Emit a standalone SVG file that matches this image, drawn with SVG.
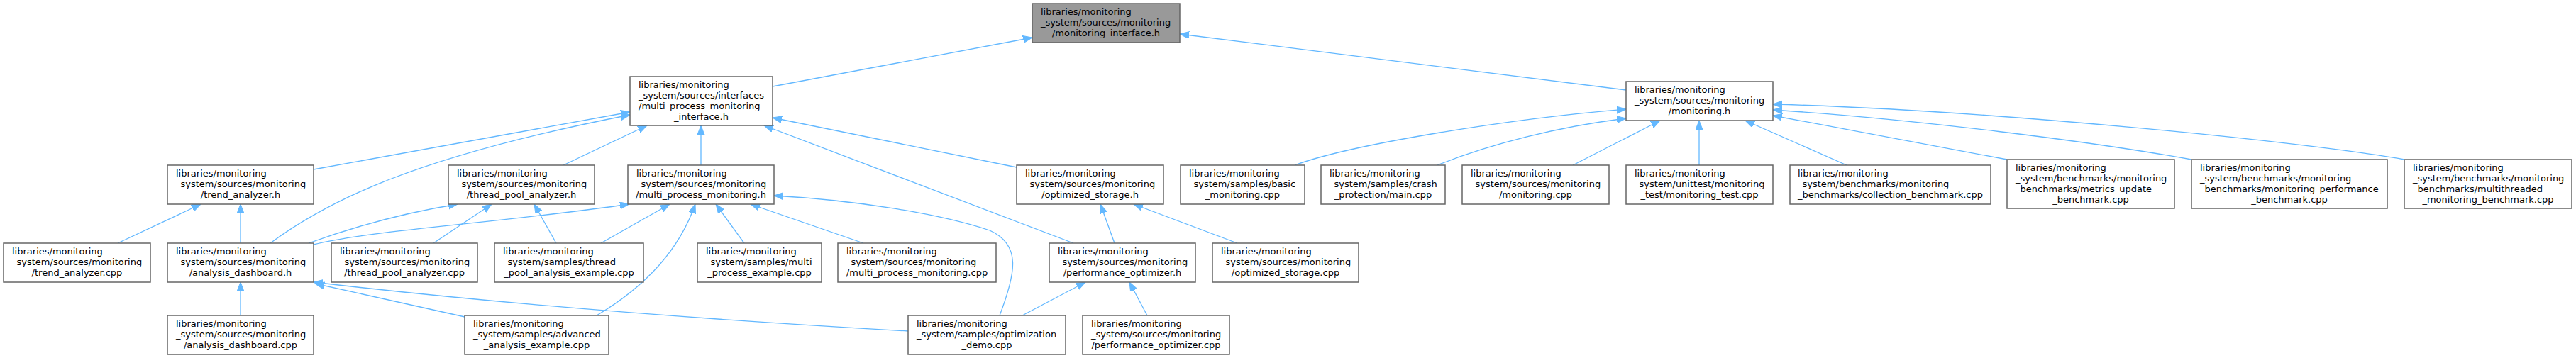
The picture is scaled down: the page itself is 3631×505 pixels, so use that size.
<svg xmlns="http://www.w3.org/2000/svg" width="3631" height="505" viewBox="0 0 3631 505">
<style>
.n rect{fill:#ffffff;stroke:#666666;stroke-width:1.5}
.n.root rect{fill:#999999}
.n text{font-family:"DejaVu Sans",sans-serif;font-size:13px;fill:#000000}
.n text.c{text-anchor:middle}
#edges path{fill:none;stroke:#63b8ff;stroke-width:1.3;marker-end:url(#ah)}
</style>
<defs>
<marker id="ah" markerUnits="userSpaceOnUse" markerWidth="14" markerHeight="12" refX="13" refY="5" orient="auto">
<path d="M0,0 L13,5 L0,10 z" fill="#63b8ff" stroke="#63b8ff" stroke-width="1"/>
</marker>
</defs>
<rect width="3631" height="505" fill="#ffffff"/>
<g id="edges">
<path d="M1089,122 L1455,53"/>
<path d="M2292,127 L1663,48"/>
<path d="M442,239 L888,158"/>
<path d="M381,343 C460,285 580,222 888,162"/>
<path d="M794,233 L912,177"/>
<path d="M988,233 L988,177"/>
<path d="M1513,343 L1077,177"/>
<path d="M1433,236 L1089,166"/>
<path d="M1825,233 C1900,205 2120,168 2292,154"/>
<path d="M2026,233 C2100,203 2200,178 2292,167"/>
<path d="M2217,233 L2340,170"/>
<path d="M2395,233 L2395,170"/>
<path d="M2603,233 L2460,170"/>
<path d="M2829,225 L2499,163"/>
<path d="M3089,225 C2950,200 2700,168 2499,155"/>
<path d="M3389,225 C3250,200 2800,155 2499,147"/>
<path d="M166,343 L283,288"/>
<path d="M339,343 L339,288"/>
<path d="M435,343 Q540,305 645,288"/>
<path d="M442,345 C520,325 700,315 887,288"/>
<path d="M611,343 L693,288"/>
<path d="M784,343 L753,288"/>
<path d="M847,343 L944,288"/>
<path d="M841,445 C900,410 955,360 980,288"/>
<path d="M1049,343 L1009,288"/>
<path d="M1217,343 L1058,288"/>
<path d="M1409,445 C1432,385 1440,345 1395,325 C1320,300 1200,282 1091,276"/>
<path d="M1280,467 Q800,440 442,398"/>
<path d="M655,447 L444,400"/>
<path d="M339,445 L339,398"/>
<path d="M1441,445 L1530,398"/>
<path d="M1617,445 L1592,398"/>
<path d="M1571,343 L1551,288"/>
<path d="M1744,343 L1598,288"/>
</g>
<g id="monitoring_interface_h" class="n root"><rect x="1455" y="5" width="208" height="55"/><text x="1467" y="21">libraries/monitoring</text><text x="1467" y="36">_system/sources/monitoring</text><text class="c" x="1559" y="51">/monitoring_interface.h</text></g>
<g id="multi_process_monitoring_interface_h" class="n"><rect x="888" y="108" width="201" height="69"/><text x="900" y="124">libraries/monitoring</text><text x="900" y="139">_system/sources/interfaces</text><text x="900" y="154">/multi_process_monitoring</text><text class="c" x="988.5" y="169">_interface.h</text></g>
<g id="monitoring_h" class="n"><rect x="2292" y="115" width="207" height="55"/><text x="2304" y="131">libraries/monitoring</text><text x="2304" y="146">_system/sources/monitoring</text><text class="c" x="2395.5" y="161">/monitoring.h</text></g>
<g id="trend_analyzer_h" class="n"><rect x="236" y="233" width="206" height="55"/><text x="248" y="249">libraries/monitoring</text><text x="248" y="264">_system/sources/monitoring</text><text class="c" x="339" y="279">/trend_analyzer.h</text></g>
<g id="thread_pool_analyzer_h" class="n"><rect x="632" y="233" width="206" height="55"/><text x="644" y="249">libraries/monitoring</text><text x="644" y="264">_system/sources/monitoring</text><text class="c" x="735" y="279">/thread_pool_analyzer.h</text></g>
<g id="multi_process_monitoring_h" class="n"><rect x="885" y="233" width="206" height="55"/><text x="897" y="249">libraries/monitoring</text><text x="897" y="264">_system/sources/monitoring</text><text class="c" x="988" y="279">/multi_process_monitoring.h</text></g>
<g id="optimized_storage_h" class="n"><rect x="1433" y="233" width="207" height="55"/><text x="1445" y="249">libraries/monitoring</text><text x="1445" y="264">_system/sources/monitoring</text><text class="c" x="1536.5" y="279">/optimized_storage.h</text></g>
<g id="basic_monitoring_cpp" class="n"><rect x="1664" y="233" width="175" height="55"/><text x="1676" y="249">libraries/monitoring</text><text x="1676" y="264">_system/samples/basic</text><text class="c" x="1751.5" y="279">_monitoring.cpp</text></g>
<g id="crash_protection_main_cpp" class="n"><rect x="1862" y="233" width="175" height="55"/><text x="1874" y="249">libraries/monitoring</text><text x="1874" y="264">_system/samples/crash</text><text class="c" x="1949.5" y="279">_protection/main.cpp</text></g>
<g id="monitoring_cpp" class="n"><rect x="2061" y="233" width="207" height="55"/><text x="2073" y="249">libraries/monitoring</text><text x="2073" y="264">_system/sources/monitoring</text><text class="c" x="2164.5" y="279">/monitoring.cpp</text></g>
<g id="monitoring_test_cpp" class="n"><rect x="2292" y="233" width="207" height="55"/><text x="2304" y="249">libraries/monitoring</text><text x="2304" y="264">_system/unittest/monitoring</text><text class="c" x="2395.5" y="279">_test/monitoring_test.cpp</text></g>
<g id="collection_benchmark_cpp" class="n"><rect x="2523" y="233" width="283" height="55"/><text x="2534" y="249">libraries/monitoring</text><text x="2534" y="264">_system/benchmarks/monitoring</text><text class="c" x="2664.5" y="279">_benchmarks/collection_benchmark.cpp</text></g>
<g id="metrics_update_benchmark_cpp" class="n"><rect x="2829" y="225" width="236" height="69"/><text x="2841" y="241">libraries/monitoring</text><text x="2841" y="256">_system/benchmarks/monitoring</text><text x="2841" y="271">_benchmarks/metrics_update</text><text class="c" x="2947" y="286">_benchmark.cpp</text></g>
<g id="monitoring_performance_benchmark_cpp" class="n"><rect x="3089" y="225" width="276" height="69"/><text x="3101" y="241">libraries/monitoring</text><text x="3101" y="256">_system/benchmarks/monitoring</text><text x="3101" y="271">_benchmarks/monitoring_performance</text><text class="c" x="3227" y="286">_benchmark.cpp</text></g>
<g id="multithreaded_monitoring_benchmark_cpp" class="n"><rect x="3389" y="225" width="236" height="69"/><text x="3401" y="241">libraries/monitoring</text><text x="3401" y="256">_system/benchmarks/monitoring</text><text x="3401" y="271">_benchmarks/multithreaded</text><text class="c" x="3507" y="286">_monitoring_benchmark.cpp</text></g>
<g id="trend_analyzer_cpp" class="n"><rect x="5" y="343" width="207" height="55"/><text x="17" y="359">libraries/monitoring</text><text x="17" y="374">_system/sources/monitoring</text><text class="c" x="108.5" y="389">/trend_analyzer.cpp</text></g>
<g id="analysis_dashboard_h" class="n"><rect x="236" y="343" width="206" height="55"/><text x="248" y="359">libraries/monitoring</text><text x="248" y="374">_system/sources/monitoring</text><text class="c" x="339" y="389">/analysis_dashboard.h</text></g>
<g id="thread_pool_analyzer_cpp" class="n"><rect x="467" y="343" width="206" height="55"/><text x="479" y="359">libraries/monitoring</text><text x="479" y="374">_system/sources/monitoring</text><text class="c" x="570" y="389">/thread_pool_analyzer.cpp</text></g>
<g id="thread_pool_analysis_example_cpp" class="n"><rect x="697" y="343" width="210" height="55"/><text x="709" y="359">libraries/monitoring</text><text x="709" y="374">_system/samples/thread</text><text class="c" x="802" y="389">_pool_analysis_example.cpp</text></g>
<g id="multi_process_example_cpp" class="n"><rect x="983" y="343" width="175" height="55"/><text x="995" y="359">libraries/monitoring</text><text x="995" y="374">_system/samples/multi</text><text class="c" x="1070.5" y="389">_process_example.cpp</text></g>
<g id="multi_process_monitoring_cpp" class="n"><rect x="1181" y="343" width="223" height="55"/><text x="1193" y="359">libraries/monitoring</text><text x="1193" y="374">_system/sources/monitoring</text><text class="c" x="1292.5" y="389">/multi_process_monitoring.cpp</text></g>
<g id="performance_optimizer_h" class="n"><rect x="1479" y="343" width="206" height="55"/><text x="1491" y="359">libraries/monitoring</text><text x="1491" y="374">_system/sources/monitoring</text><text class="c" x="1582" y="389">/performance_optimizer.h</text></g>
<g id="optimized_storage_cpp" class="n"><rect x="1709" y="343" width="206" height="55"/><text x="1721" y="359">libraries/monitoring</text><text x="1721" y="374">_system/sources/monitoring</text><text class="c" x="1812" y="389">/optimized_storage.cpp</text></g>
<g id="analysis_dashboard_cpp" class="n"><rect x="236" y="445" width="206" height="55"/><text x="248" y="461">libraries/monitoring</text><text x="248" y="476">_system/sources/monitoring</text><text class="c" x="339" y="491">/analysis_dashboard.cpp</text></g>
<g id="advanced_analysis_example_cpp" class="n"><rect x="655" y="445" width="203" height="55"/><text x="667" y="461">libraries/monitoring</text><text x="667" y="476">_system/samples/advanced</text><text class="c" x="756.5" y="491">_analysis_example.cpp</text></g>
<g id="optimization_demo_cpp" class="n"><rect x="1280" y="445" width="222" height="55"/><text x="1292" y="461">libraries/monitoring</text><text x="1292" y="476">_system/samples/optimization</text><text class="c" x="1391" y="491">_demo.cpp</text></g>
<g id="performance_optimizer_cpp" class="n"><rect x="1526" y="445" width="207" height="55"/><text x="1538" y="461">libraries/monitoring</text><text x="1538" y="476">_system/sources/monitoring</text><text class="c" x="1629.5" y="491">/performance_optimizer.cpp</text></g>
</svg>
